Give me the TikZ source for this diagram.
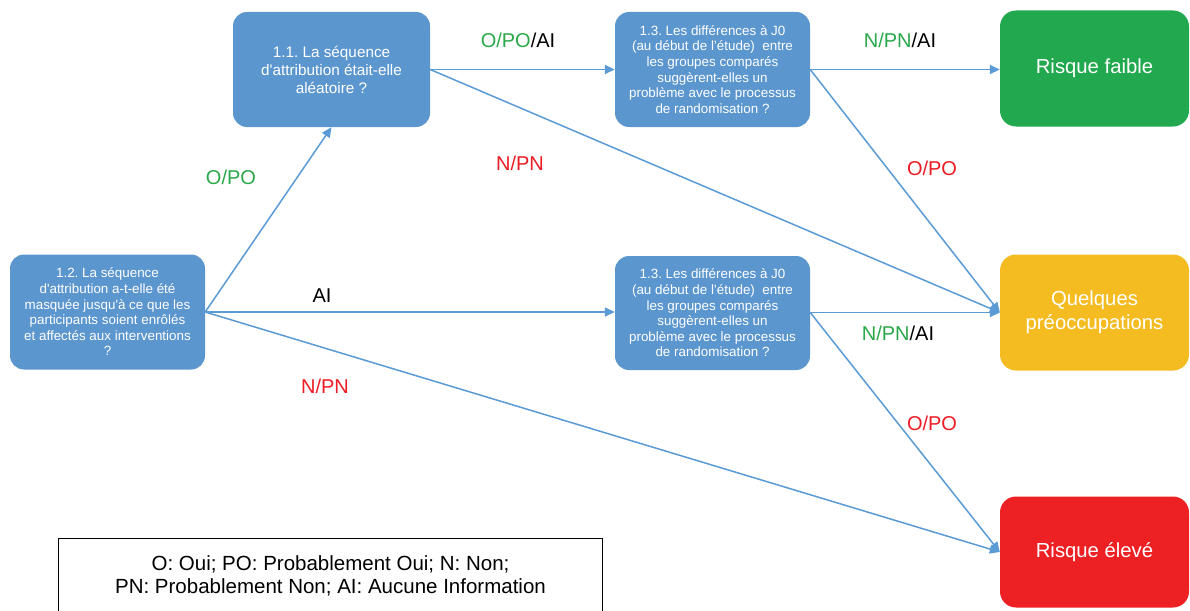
\documentclass[tikz,border=0pt]{standalone}
\usepackage{fontspec}
\setmainfont{Liberation Sans}
\frenchspacing
\usetikzlibrary{arrows.meta}
\definecolor{boxblue}{RGB}{91,150,206}
\definecolor{edgeblue}{RGB}{91,155,213}
\definecolor{lowgreen}{RGB}{34,168,78}
\definecolor{midyellow}{RGB}{245,188,34}
\definecolor{highred}{RGB}{237,32,36}
\definecolor{lblgreen}{RGB}{43,168,74}
\definecolor{lblred}{RGB}{237,28,36}
\tikzset{
  qbox/.style={rectangle, rounded corners=14pt, fill=boxblue, text=white, align=center, inner sep=0pt},
  riskbox/.style={rectangle, rounded corners=16pt, text=white, align=center, inner sep=0pt,
    minimum width=189pt, minimum height=116pt, font=\fontsize{20.3}{24}\selectfont},
  arr/.style={-{Triangle[length=10pt,width=9pt]}, draw=edgeblue, line width=1.5pt},
  lbl/.style={font=\fontsize{20}{22}\selectfont, inner sep=0pt},
  qsmall/.style={font=\fontsize{13.4}{15.6}\selectfont},
  qbig/.style={font=\fontsize{15.3}{18}\selectfont}
}
\begin{document}
\begin{tikzpicture}[x=1pt,y=-1pt]
\useasboundingbox (0,0) rectangle (1190,610);
\fill[white] (0,0) rectangle (1190,610);

% question boxes
\node[qbox, qsmall, minimum width=195pt, minimum height=115pt] (b12) at (107.5,312)
  {1.2. La séquence\\d\textquotesingle attribution a-t-elle été\\masquée jusqu\textquotesingle à ce que les\\participants soient enrôlés\\et affectés aux interventions\\?};
\node[qbox, qbig, minimum width=197pt, minimum height=115pt] (b11) at (331.5,69.5)
  {1.1. La séquence\\d\textquotesingle attribution était-elle\\aléatoire ?};
\node[qbox, qsmall, minimum width=195pt, minimum height=115pt] (b13a) at (712.5,69.5)
  {1.3. Les différences à J0\\(au début de l’étude)\ \ entre\\les groupes comparés\\suggèrent-elles un\\problème avec le processus\\de randomisation ?};
\node[qbox, qsmall, minimum width=195pt, minimum height=114pt] (b13b) at (712.5,313)
  {1.3. Les différences à J0\\(au début de l’étude)\ \ entre\\les groupes comparés\\suggèrent-elles un\\problème avec le processus\\de randomisation ?};

% risk boxes
\node[riskbox, fill=lowgreen] (low) at (1094.5,68.5) {Risque faible};
\node[riskbox, fill=midyellow] (mid) at (1094.5,312.5) {Quelques\\préoccupations};
\node[riskbox, fill=highred, minimum height=111pt] (high) at (1094.5,552) {Risque élevé};

% connectors
\draw[arr] (b12.east) -- (b11.south);
\draw[arr] (b12.east) -- (b13b.west |- b12.east);
\draw[arr] (b12.east) -- (high.west);
\draw[arr] (b11.east) -- (b13a.west |- b11.east);
\draw[arr] (b11.east) -- (mid.west);
\draw[arr] (b13a.east) -- (low.west |- b13a.east);
\draw[arr] (b13a.east) -- (mid.west);
\draw[arr] (b13b.east |- mid.west) -- (mid.west);
\draw[arr] (b13b.east |- mid.west) -- (high.west);

% labels
\node[lbl, text=lblgreen] (l1) at (231,177) {O/PO};
\node[lbl] (l2) at (322,296) {AI};
\node[lbl, text=lblred] (l3) at (325,386) {N/PN};
\node[lbl] (l4) at (518,40) {{\color{lblgreen}O/PO}/AI};
\node[lbl, text=lblred] (l5) at (520,163) {N/PN};
\node[lbl] (l6) at (900,40) {{\color{lblgreen}N/PN}/AI};
\node[lbl, text=lblred] (l7) at (932,168) {O/PO};
\node[lbl] (l8) at (898,333) {{\color{lblgreen}N/PN}/AI};
\node[lbl, text=lblred] (l9) at (932,423) {O/PO};

% legend
\draw[line width=1pt] (58.5,538) rectangle (602.5,640);
\node[align=center, inner sep=0pt, font=\fontsize{20.5}{23.5}\selectfont] (leg) at (330.5,576)
  {O: Oui; PO: Probablement Oui; N: Non;\\PN: Probablement Non; AI: Aucune Information};
\end{tikzpicture}
\end{document}
